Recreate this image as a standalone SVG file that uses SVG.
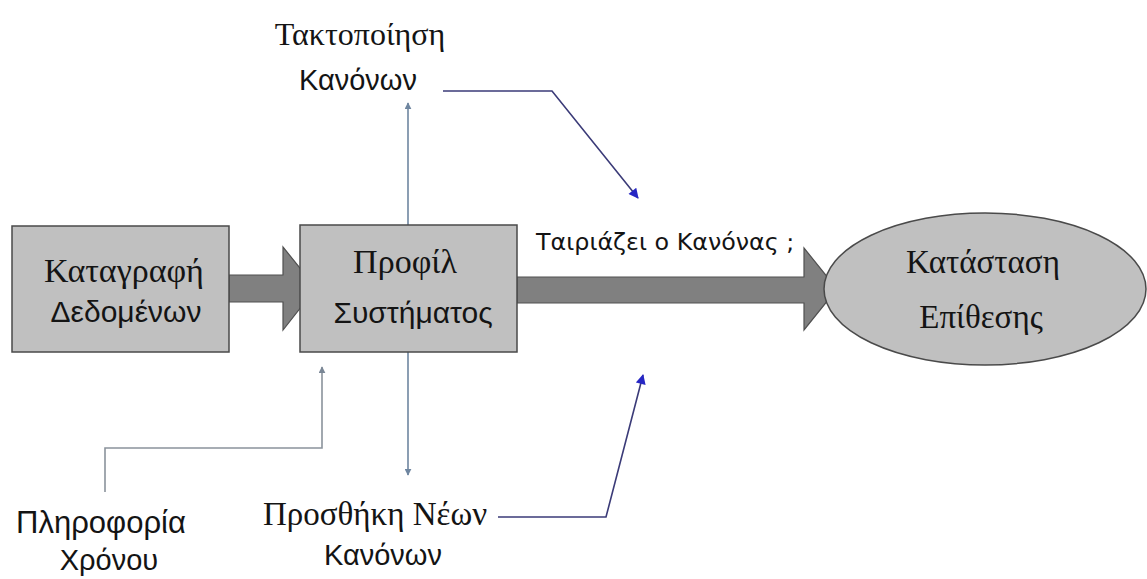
<svg xmlns="http://www.w3.org/2000/svg" width="1147" height="579" viewBox="0 0 1147 579">
  <style>
    .box { fill: #c0c0c0; stroke: #4a4a4a; stroke-width: 1.5; }
    .fat { fill: #808080; stroke: #505050; stroke-width: 1.2; }
    .serif { font-family: "Liberation Serif", "DejaVu Serif", serif; fill: #141414; }
    .sans { font-family: "Liberation Sans", "DejaVu Sans", sans-serif; fill: #141414; }
    .wide { font-family: "DejaVu Sans", "Liberation Sans", sans-serif; fill: #141414; }
    .steel { fill: none; stroke: #6f86a0; stroke-width: 1.6; }
    .grey { fill: none; stroke: #8b939c; stroke-width: 1.6; }
    .navy { fill: none; stroke: #3b3b78; stroke-width: 1.6; }
  </style>
  <defs>
    <marker id="headSteel" viewBox="0 0 10 10" refX="9" refY="5" markerWidth="7" markerHeight="7" orient="auto" markerUnits="userSpaceOnUse">
      <path d="M0,0 L10,5 L0,10 z" fill="#6f86a0"/>
    </marker>
    <marker id="headGrey" viewBox="0 0 10 10" refX="9" refY="5" markerWidth="7" markerHeight="7" orient="auto" markerUnits="userSpaceOnUse">
      <path d="M0,0 L10,5 L0,10 z" fill="#7a8796"/>
    </marker>
    <marker id="headBlue" viewBox="0 0 10 10" refX="9" refY="5" markerWidth="12" markerHeight="10" orient="auto" markerUnits="userSpaceOnUse">
      <path d="M0,0 L10,5 L0,10 z" fill="#2626c4"/>
    </marker>
  </defs>

  <g id="connectors">
    <!-- block arrow: data logging to system profile -->
    <path class="fat" d="M229,275 L283,275 L283,247 L316,288 L283,330 L283,302 L229,302 Z"/>
    <!-- block arrow: system profile to attack state -->
    <path class="fat" d="M517,277 L804,277 L804,248 L837,289 L804,330 L804,303 L517,303 Z"/>
    <!-- profile up to rule ordering -->
    <line class="steel" x1="408" y1="225" x2="408" y2="103" marker-end="url(#headSteel)"/>
    <!-- profile down to new rules -->
    <line class="steel" x1="408" y1="352" x2="408" y2="475" marker-end="url(#headSteel)"/>
    <!-- time info into profile -->
    <polyline class="grey" points="105,492 105,448 322,448 322,367" marker-end="url(#headGrey)"/>
    <!-- rule ordering feeds the match -->
    <polyline class="navy" points="443,91 552,91 638,198" marker-end="url(#headBlue)"/>
    <!-- new rules feed the match -->
    <polyline class="navy" points="498,517 606,517 643,375" marker-end="url(#headBlue)"/>
  </g>

  <g id="data-logging">
    <rect class="box" x="12" y="226" width="217" height="126"/>
    <text class="serif" x="124" y="282" font-size="34" text-anchor="middle">Καταγραφή</text>
    <text class="sans" x="126" y="322" font-size="30" text-anchor="middle">Δεδομένων</text>
  </g>

  <g id="system-profile">
    <rect class="box" x="300" y="225" width="217" height="127"/>
    <text class="serif" x="405" y="273" font-size="34" text-anchor="middle">Προφίλ</text>
    <text class="sans" x="413" y="323" font-size="30" text-anchor="middle">Συστήματος</text>
  </g>

  <g id="attack-state">
    <ellipse class="box" cx="985" cy="289" rx="161" ry="76" stroke="#333"/>
    <text class="serif" x="983" y="273" font-size="33" text-anchor="middle">Κατάσταση</text>
    <text class="serif" x="981" y="328" font-size="33" text-anchor="middle">Επίθεσης</text>
  </g>

  <g id="rule-match">
    <text class="wide" x="536" y="250" font-size="23.8">Ταιριάζει ο Κανόνας ;</text>
  </g>

  <g id="rule-ordering">
    <text class="serif" x="360" y="45" font-size="32" text-anchor="middle">Τακτοποίηση</text>
    <text class="sans" x="358" y="90" font-size="29" text-anchor="middle">Κανόνων</text>
  </g>

  <g id="new-rules">
    <text class="serif" x="375" y="525" font-size="33" text-anchor="middle">Προσθήκη Νέων</text>
    <text class="sans" x="383" y="565" font-size="29" text-anchor="middle">Κανόνων</text>
  </g>

  <g id="time-info">
    <text class="sans" x="101" y="533" font-size="31" text-anchor="middle">Πληροφορία</text>
    <text class="sans" x="109" y="570" font-size="29" text-anchor="middle">Χρόνου</text>
  </g>
</svg>
